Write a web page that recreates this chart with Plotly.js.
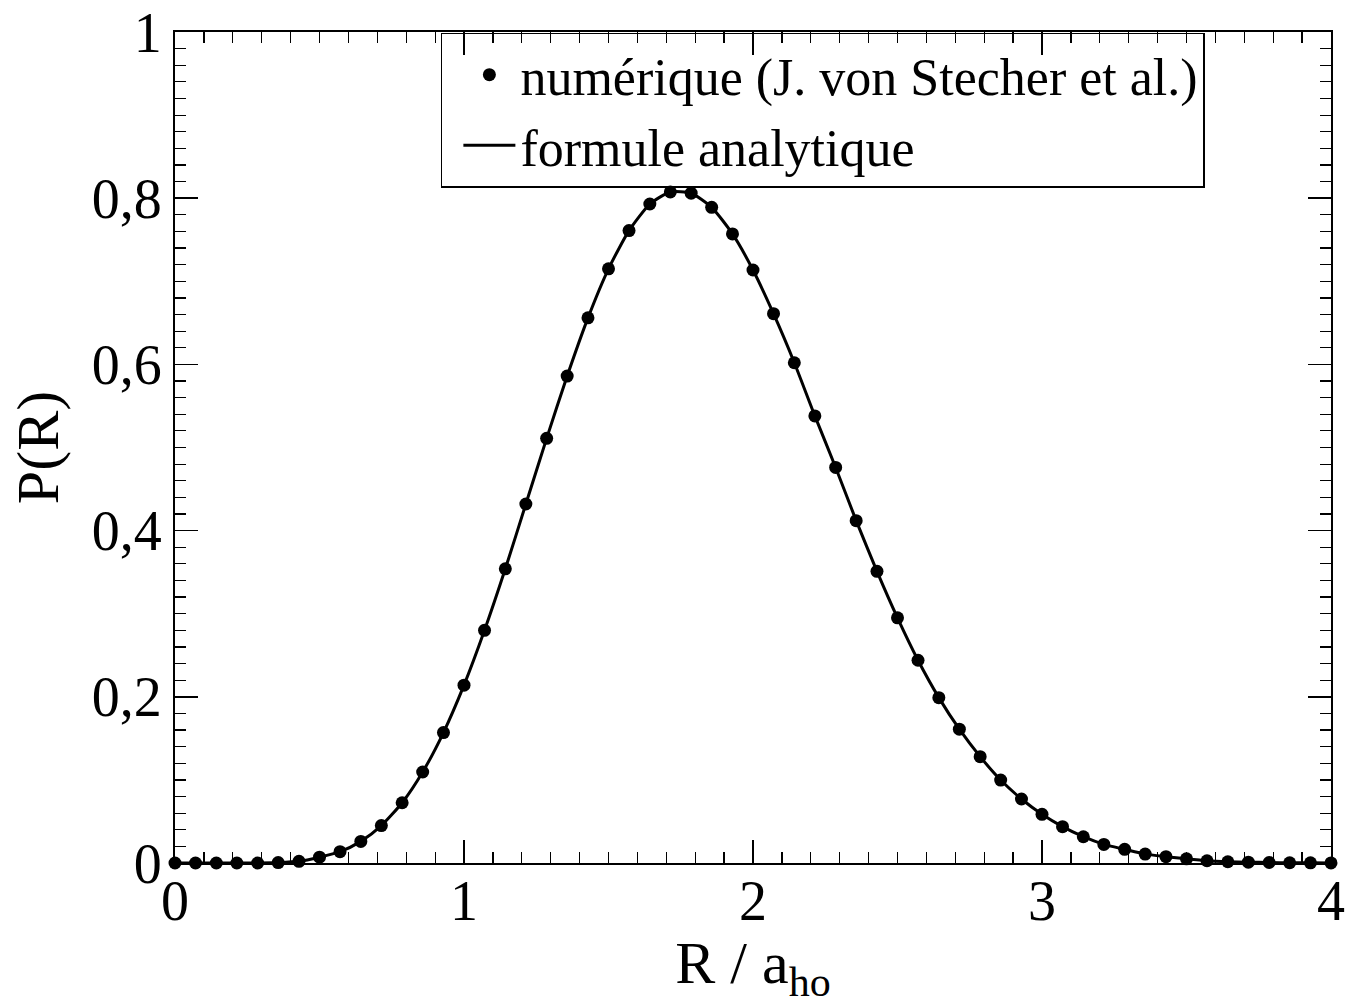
<!DOCTYPE html>
<html>
<head>
<meta charset="utf-8">
<script src="https://cdn.plot.ly/plotly-3.0.1.min.js"></script>
<style>html,body{margin:0;padding:0;background:#fff;}</style>
</head>
<body>
<div id="chart" style="width:1350px;height:1005px;"></div>
<script>
// R / a_ho values of the numerical points
const rValues = [0.000, 0.071, 0.143, 0.214, 0.286, 0.357, 0.429, 0.500, 0.571, 0.643,
  0.714, 0.786, 0.857, 0.929, 1.000, 1.071, 1.143, 1.214, 1.286, 1.357,
  1.429, 1.500, 1.571, 1.643, 1.714, 1.786, 1.857, 1.929, 2.000, 2.071,
  2.143, 2.214, 2.286, 2.357, 2.429, 2.500, 2.571, 2.643, 2.714, 2.786,
  2.857, 2.929, 3.000, 3.071, 3.143, 3.214, 3.286, 3.357, 3.429, 3.500,
  3.571, 3.643, 3.714, 3.786, 3.857, 3.929, 4.000];
// P(R) numerical (J. von Stecher et al.)
const pNumeric = [0, 0, 0, 0, 0, 0.0005, 0.002, 0.007, 0.0136, 0.026,
  0.045, 0.0725, 0.1095, 0.157, 0.214, 0.280, 0.354, 0.432, 0.511, 0.586,
  0.656, 0.715, 0.761, 0.793, 0.8075, 0.806, 0.789, 0.757, 0.7136, 0.661,
  0.602, 0.538, 0.476, 0.412, 0.351, 0.295, 0.244, 0.199, 0.161, 0.128,
  0.0998, 0.077, 0.0586, 0.0437, 0.0316, 0.0224, 0.0164, 0.0107, 0.0076, 0.005,
  0.0027, 0.0015, 0.001, 0.0006, 0.0003, 0.0002, 0.0001];
// analytic formula curve (coincides with points)
const pAnalytic = pNumeric.slice();

const xTickVals = [0, 1, 2, 3, 4];
const xTickText = ['0', '1', '2', '3', '4'];
const yTickVals = [0, 0.2, 0.4, 0.6, 0.8, 1];
const yTickText = ['0', '0,2', '0,4', '0,6', '0,8', '1'];

const seriesNames = ['numérique (J. von Stecher et al.)', 'formule analytique'];

const FONT = 'Liberation Serif, Times New Roman, serif';

const traces = [
  {
    x: rValues, y: pNumeric, name: seriesNames[0], type: 'scatter', mode: 'markers',
    marker: {color: '#000', size: 13}, cliponaxis: false
  },
  {
    x: rValues, y: pAnalytic, name: seriesNames[1], type: 'scatter', mode: 'lines',
    line: {color: '#000', width: 3, shape: 'spline', smoothing: 0.6}
  }
];

const axisCommon = {
  showgrid: false, zeroline: false, showline: true, linecolor: '#000', linewidth: 2,
  mirror: 'allticks', ticks: 'inside', ticklen: 23, tickwidth: 1.5, tickcolor: '#000',
  tickfont: {family: FONT, size: 56, color: '#000'}
};

const layout = {
  width: 1350, height: 1005,
  margin: {l: 175, r: 19, t: 32, b: 142},
  paper_bgcolor: '#fff', plot_bgcolor: '#fff',
  font: {family: FONT, color: '#000'},
  showlegend: true,
  legend: {
    x: 0.23, y: 0.999, xanchor: 'left', yanchor: 'top',
    bordercolor: '#000', borderwidth: 1.5, bgcolor: 'rgba(255,255,255,0)',
    font: {family: FONT, size: 52, color: '#000'},
    itemwidth: 52, indentation: 16, tracegroupgap: 0,
    entrywidth: 745, entrywidthmode: 'pixels'
  },
  xaxis: Object.assign({}, axisCommon, {
    range: [0, 4], tickmode: 'array', tickvals: xTickVals, ticktext: xTickText,
    ticklabelstandoff: -12,
    minor: {dtick: 0.1, ticklen: 11, tickwidth: 1.2, tickcolor: '#000', ticks: 'inside'},
    title: {text: 'R / a<sub>ho</sub>', font: {family: FONT, size: 60, color: '#000'}, standoff: 0}
  }),
  yaxis: Object.assign({}, axisCommon, {
    range: [0, 1], tickmode: 'array', tickvals: yTickVals, ticktext: yTickText,
    ticklabelstandoff: 0,
    minor: {dtick: 0.02, ticklen: 11, tickwidth: 1.2, tickcolor: '#000', ticks: 'inside'},
    title: {text: 'P(R)', font: {family: FONT, size: 60, color: '#000'}, standoff: 14}
  })
};

Plotly.newPlot('chart', traces, layout, {displayModeBar: false, staticPlot: true});
</script>
</body>
</html>
